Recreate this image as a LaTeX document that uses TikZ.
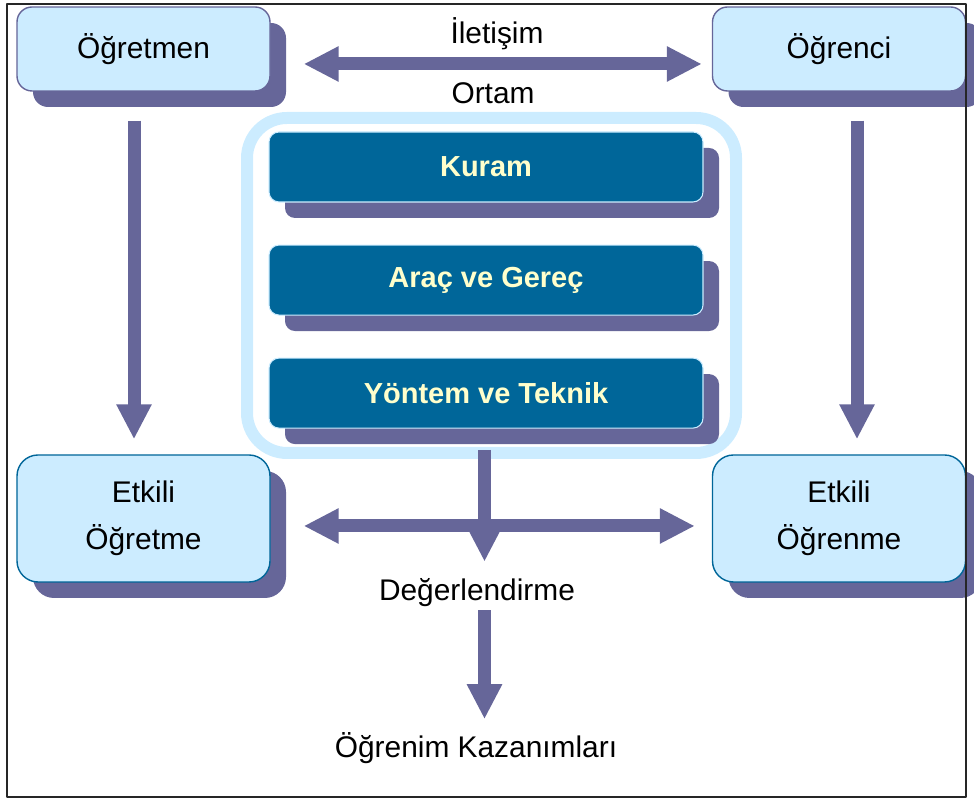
\documentclass[tikz,border=0pt]{standalone}
\usepackage{fontspec}
\setmainfont{Liberation Sans}
\usetikzlibrary{calc,positioning,shadows,arrows.meta}
\definecolor{mavi}{HTML}{CCECFF}
\definecolor{koyu}{HTML}{006699}
\definecolor{mor}{HTML}{666699}
\definecolor{sari}{HTML}{FFFFCC}

\begin{document}
\begin{tikzpicture}[line join=round,>={Triangle[length=0.7cm,width=0.66cm]},
	golge/.style={drop shadow={shadow xshift=0.32cm,shadow yshift=-0.32cm,fill=mor,opacity=1}},
	kutu/.style={golge,draw=mor,fill=mavi,line width=0.8pt,rounded corners=0.3cm,minimum width=5.06cm,minimum height=1.68cm,align=center,font=\fontsize{17}{27}\selectfont},
	kutub/.style={kutu,draw=koyu,rounded corners=0.42cm,minimum height=2.54cm},
	koyukutu/.style={golge,draw=mavi,fill=koyu,line width=0.6pt,rounded corners=0.2cm,minimum width=8.68cm,minimum height=1.4cm,text=sari,font=\bfseries\fontsize{16.5}{20}\selectfont},
	yazi/.style={font=\fontsize{17}{20}\selectfont},
	ok/.style={draw=mor,line width=0.26cm,line cap=butt}]
	\useasboundingbox (0,0) rectangle (19.48,16);
	% Kutular
	\node[kutu] (OGT) at (2.87,15.02) {Öğretmen};
	\node[kutu] (OGR) at (16.78,15.02) {Öğrenci};
	\node[kutub] (ET) at (2.87,5.63) {Etkili\\Öğretme};
	\node[kutub] (EN) at (16.78,5.63) {Etkili\\Öğrenme};
	% Ortam
	\node[draw=mavi,line width=0.24cm,rounded corners=0.8cm,minimum width=9.78cm,minimum height=6.7cm] (ORT) at (9.83,10.29) {};
	\node[koyukutu] (K) at (9.72,12.66) {Kuram};
	\node[koyukutu,below=0.84cm of K] (AG) {Araç ve Gereç};
	\node[koyukutu,below=0.84cm of AG] (YT) {Yöntem ve Teknik};
	% Yazılar
	\node[yazi] (IL) at (9.94,15.32) {İletişim};
	\node[yazi] (OR) at (9.86,14.14) {Ortam};
	\node[yazi] (D) at (9.54,4.14) {Değerlendirme};
	\node[yazi] (KZ) at (9.52,1.04) {Öğrenim Kazanımları};
	% Oklar
	\draw[ok,<->,shorten <=0.66cm,shorten >=0.2cm] ([yshift=-0.3cm]OGT.east) -- ([yshift=-0.3cm]OGR.west);
	\draw[ok,->,shorten <=0.58cm,shorten >=0.3cm] ([xshift=-0.19cm]OGT.south) -- ([xshift=-0.19cm]ET.north);
	\draw[ok,->,shorten <=0.58cm,shorten >=0.3cm] ([xshift=0.36cm]OGR.south) -- ([xshift=0.36cm]EN.north);
	\draw[ok,<->,shorten <=0.66cm,shorten >=0.34cm] ([yshift=-0.15cm]ET.east) -- ([yshift=-0.15cm]EN.west);
	\coordinate (T) at ($(ORT.south)+(-0.14,0.18)$);
	\draw[ok,->,shorten >=0.22cm] (T) -- (T |- D.north);
	\draw[ok,->,shorten <=-0.06cm,shorten >=0.14cm] (D.south -| T) -- (KZ.north -| T);
	% Çerçeve
	\draw[line width=1.1pt,black!85] (0.14,0.06) rectangle (19.32,15.92);
\end{tikzpicture}
\end{document}
